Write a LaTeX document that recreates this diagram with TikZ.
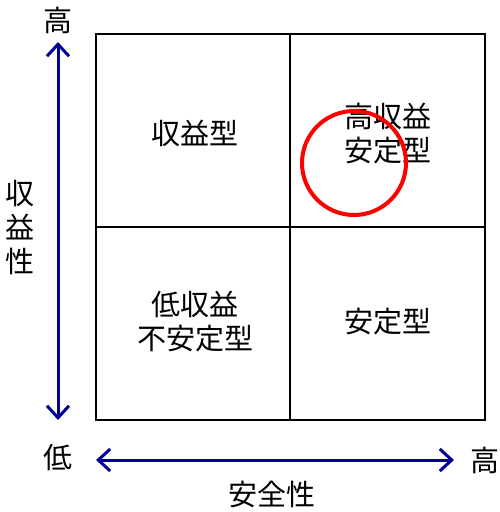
\documentclass[tikz,border=0pt]{standalone}
\usepackage{fontspec}
\setmainfont{Noto Sans CJK JP}
\usetikzlibrary{arrows.meta}
\definecolor{axisblue}{RGB}{0,0,150}
\begin{document}
\begin{tikzpicture}[x=1pt,y=-1pt,
  grid/.style={draw=black,line width=1.8pt},
  axis/.style={draw=axisblue,line width=3pt,{Straight Barb[length=12pt,width=22pt,line width=3pt]}-{Straight Barb[length=12pt,width=22pt,line width=3pt]}},
  lbl/.style={font=\fontsize{29}{34}\selectfont,inner sep=0pt,align=center},
  ringmark/.style={draw=red,line width=4pt}]
\useasboundingbox (0,0) rectangle (500,512);
\draw[grid] (96,34) rectangle (485,420);
\draw[grid] (290,34) -- (290,420);
\draw[grid] (96,227) -- (485,227);
\coordinate (vt) at (58,42);
\coordinate (vb) at (58,420);
\coordinate (hl) at (96,460);
\coordinate (hr) at (454,460);
\draw[axis] (vt) -- (vb);
\draw[axis] (hl) -- (hr);
\node[lbl] (qtl) at (195,133) {収益型};
\node[lbl] (qtr) at (388,134) {高収益\\安定型};
\node[lbl] (qbl) at (195,322) {低収益\\不安定型};
\node[lbl] (qbr) at (388,322) {安定型};
\node[lbl] (top) at (58,20) {高};
\node[lbl] (low) at (58,458) {低};
\node[lbl] (right) at (485,460) {高};
\node[lbl] (xlab) at (272,494) {安全性};
\node[lbl] (ylab) at (20,228) {収\\益\\性};
\node[ringmark,circle,minimum size=104pt,inner sep=0pt] (ring) at (354,163) {};
\end{tikzpicture}
\end{document}
